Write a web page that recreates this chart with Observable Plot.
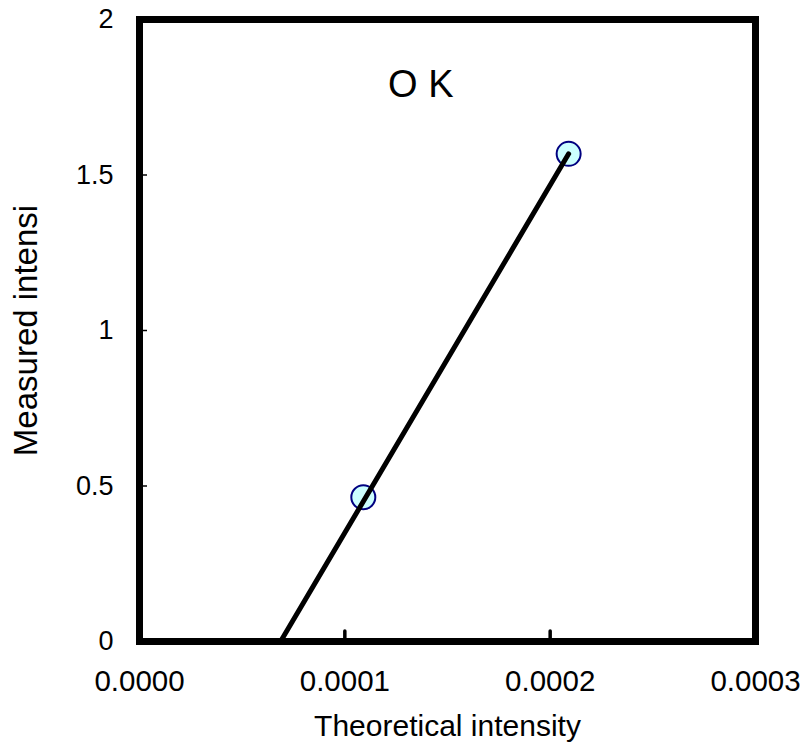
<!DOCTYPE html>
<html>
<head>
<meta charset="utf-8">
<script src="https://cdn.jsdelivr.net/npm/d3@7"></script>
<script src="https://cdn.jsdelivr.net/npm/@observablehq/plot@0.6"></script>
<style>
  html, body { margin: 0; padding: 0; background: #fff; }
  #chart svg { display: block; }
</style>
</head>
<body>
<div id="chart"></div>
<script>
// Data
const theoretical = [0.000109, 0.000209];
const measured = [0.464, 1.568];
const fitX = [0.0000687, 0.000209];
const fitY = [0, 1.568];
const xTicks = [0, 0.0001, 0.0002, 0.0003];
const yTicks = [0, 0.5, 1, 1.5, 2];
const xTitle = "Theoretical intensity";
const yTitle = "Measured intensi";
const noteText = ["O K"];
const noteX = [0.000137];
const noteY = [1.79];

const points = theoretical.map((x, i) => ({x, y: measured[i]}));
const fit = fitX.map((x, i) => ({x, y: fitY[i]}));
const notes = noteText.map((t, i) => ({t, x: noteX[i], y: noteY[i]}));

const font = "'Liberation Sans', Arial, sans-serif";

const chart = Plot.plot({
  width: 802,
  height: 749,
  marginLeft: 139,
  marginRight: 47,
  marginTop: 19,
  marginBottom: 108,
  style: {fontFamily: font, background: "#fff", color: "#000"},
  x: {domain: [0, 0.0003], label: null},
  y: {domain: [0, 2], label: null},
  marks: [
    Plot.axisY({ticks: yTicks, tickSize: -8, tickPadding: 34, strokeWidth: 1.5, fontSize: 27, tickFormat: d => String(d), label: null}),
    Plot.axisX({ticks: xTicks, tickSize: -10, tickPadding: 39, strokeWidth: 3.5, strokeLinecap: "round", fontSize: 29.5, tickFormat: d => d.toFixed(4), label: null}),
    Plot.dot(points, {x: "x", y: "y", r: 12, fill: "#ccffff", stroke: "#000080", strokeWidth: 2}),
    Plot.line(fit, {x: "x", y: "y", stroke: "#000", strokeWidth: 5, strokeLinecap: "round"}),
    Plot.text(notes, {x: "x", y: "y", text: "t", fontSize: 38, fill: "#000"}),
    Plot.text([xTitle], {frameAnchor: "bottom", dy: 94, fontSize: 30, fill: "#000"}),
    Plot.text([yTitle], {frameAnchor: "left", textAnchor: "middle", dx: -113, rotate: -90, fontSize: 33, fill: "#000"}),
    Plot.frame({stroke: "#000", strokeWidth: 7})
  ]
});
document.getElementById("chart").appendChild(chart);
</script>
</body>
</html>
